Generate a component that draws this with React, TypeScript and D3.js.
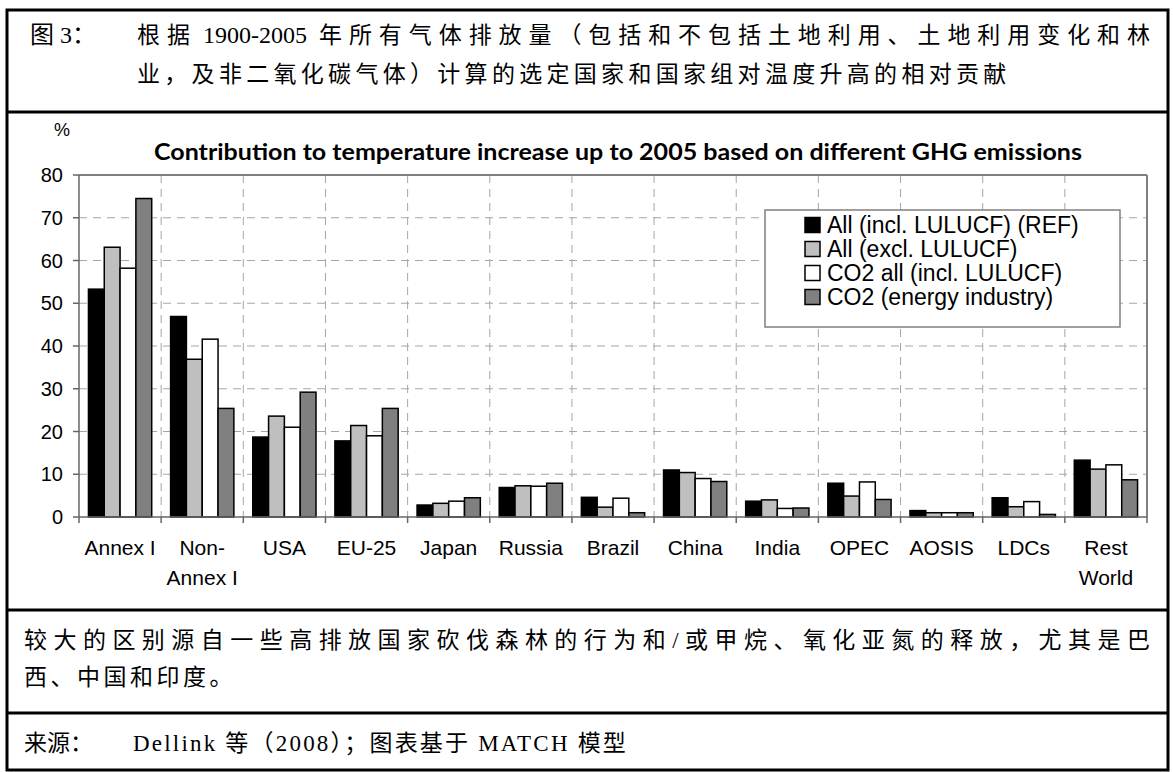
import React from "react";
import * as d3 from "d3";

const categories = ["Annex I", "Non-\nAnnex I", "USA", "EU-25", "Japan", "Russia", "Brazil", "China", "India", "OPEC", "AOSIS", "LDCs", "Rest\nWorld"];
const seriesNames = ["All (incl. LULUCF) (REF)", "All (excl. LULUCF)", "CO2 all (incl. LULUCF)", "CO2 (energy industry)"];
const seriesColors = ["#000000", "#bfbfbf", "#ffffff", "#808080"];
const allIncl = [53.3, 46.9, 18.7, 17.8, 2.8, 6.9, 4.6, 11.0, 3.7, 7.9, 1.5, 4.5, 13.3];
const allExcl = [63.1, 36.9, 23.6, 21.4, 3.2, 7.3, 2.3, 10.4, 4.0, 4.9, 1.0, 2.4, 11.2];
const co2All = [58.2, 41.6, 21.0, 19.0, 3.7, 7.2, 4.4, 9.0, 2.0, 8.2, 1.0, 3.6, 12.2];
const co2Energy = [74.5, 25.4, 29.2, 25.4, 4.5, 7.9, 1.0, 8.3, 2.1, 4.1, 1.0, 0.6, 8.7];
const yTicks = [0, 10, 20, 30, 40, 50, 60, 70, 80];

const titleLabel = "图 3：";
const titleLine1a = "根据";
const titleLine1b = "1900-2005";
const titleLine1c = "年所有气体排放量（包括和不包括土地利用、土地利用变化和林";
const titleLine2 = "业，及非二氧化碳气体）计算的选定国家和国家组对温度升高的相对贡献";
const chartTitle = "Contribution to temperature increase up to 2005 based on different GHG emissions";
const noteLine1 = "较大的区别源自一些高排放国家砍伐森林的行为和/或甲烷、氧化亚氮的释放，尤其是巴";
const noteLine2 = "西、中国和印度。";
const sourceLabel = "来源：";
const sourceText = "Dellink 等（2008）；图表基于 MATCH 模型";

const seriesData = [allIncl, allExcl, co2All, co2Energy];

const W = 1173, H = 772;
const plot = { left: 79, right: 1147, top: 175, bottom: 517 };
const cjkFont = "'Liberation Serif', 'Noto Sans CJK SC', serif";
const sansFont = "'Liberation Sans', Arial, sans-serif";

export default function App() {
  const x0 = d3.scaleBand<number>().domain(d3.range(categories.length)).range([plot.left, plot.right]).padding(0);
  const bw = x0.bandwidth();
  const x1 = d3.scaleBand<number>().domain(d3.range(seriesNames.length)).range([bw * 0.115, bw * 0.885]).padding(0);
  const y = d3.scaleLinear().domain([0, 80]).range([plot.bottom, plot.top]);
  const boundaries = d3.range(categories.length + 1).map((i) => plot.left + i * bw);

  return (
    <svg width={W} height={H} style={{ position: "absolute", left: 0, top: 0, background: "#fff" }}>
      <rect x={0} y={0} width={W} height={H} fill="#fff" />
      {/* outer frame and separators */}
      <rect x={7} y={10} width={1161} height={760} fill="none" stroke="#000" strokeWidth={3} />
      <line x1={7} x2={1168} y1={112} y2={112} stroke="#000" strokeWidth={3} />
      <line x1={7} x2={1168} y1={610} y2={610} stroke="#000" strokeWidth={3} />
      <line x1={7} x2={1168} y1={713} y2={713} stroke="#000" strokeWidth={3} />

      {/* figure caption */}
      <g fontFamily={cjkFont} fontSize={23} fill="#000">
        <text x={30} y={43} fontSize={24}>{titleLabel}</text>
        <text x={137} y={43} letterSpacing={7}>{titleLine1a}</text>
        <text x={203} y={43} fontSize={24}>{titleLine1b}</text>
        <text x={319} y={43} textLength={831} lengthAdjust="spacing">{titleLine1c}</text>
        <text x={137} y={82} letterSpacing={4.3}>{titleLine2}</text>
        <text x={24} y={648} textLength={1126} lengthAdjust="spacing">{noteLine1}</text>
        <text x={24} y={685} letterSpacing={3.5}>{noteLine2}</text>
        <text x={24} y={751}>{sourceLabel}</text>
        <text x={133} y={751} letterSpacing={2.2}>{sourceText}</text>
      </g>

      {/* chart title */}
      <text x={62} y={136} fontFamily={sansFont} fontSize={18} textAnchor="middle">%</text>
      <text x={618} y={160} fontFamily="Lato, 'Open Sans', sans-serif" fontWeight="bold" fontSize={22} textAnchor="middle" textLength={928} lengthAdjust="spacingAndGlyphs">{chartTitle}</text>

      {/* grid */}
      <g stroke="#a6a6a6" strokeWidth={1} strokeDasharray="8,6">
        {yTicks.filter((t) => t > 0 && t < 80).map((t) => (
          <line key={"h" + t} x1={plot.left} x2={plot.right} y1={y(t)} y2={y(t)} />
        ))}
        {boundaries.slice(1, -1).map((b, i) => (
          <line key={"v" + i} x1={b} x2={b} y1={plot.top} y2={plot.bottom} />
        ))}
      </g>

      {/* frame */}
      <line x1={plot.left} x2={plot.right} y1={plot.top} y2={plot.top} stroke="#808080" strokeWidth={2} />
      <line x1={plot.right} x2={plot.right} y1={plot.top} y2={plot.bottom} stroke="#808080" strokeWidth={2} />

      {/* bars */}
      <g>
        {categories.map((c, ci) => (
          <g key={c} transform={`translate(${x0(ci)},0)`}>
            {seriesData.map((s, si) => (
              <rect key={si} x={x1(si)} y={y(s[ci])} width={x1.bandwidth()} height={y(0) - y(s[ci])}
                fill={seriesColors[si]} stroke="#000" strokeWidth={1.5} />
            ))}
          </g>
        ))}
      </g>

      {/* axes */}
      <line x1={plot.left} x2={plot.left} y1={plot.top} y2={plot.bottom} stroke="#666" strokeWidth={1.5} />
      <line x1={plot.left} x2={plot.right} y1={plot.bottom} y2={plot.bottom} stroke="#666" strokeWidth={1.5} />
      <g fontFamily={sansFont} fontSize={20} fill="#000">
        {yTicks.map((t) => (
          <g key={t}>
            <line x1={plot.left - 6} x2={plot.left} y1={y(t)} y2={y(t)} stroke="#666" strokeWidth={1.5} />
            <text x={63} y={y(t)} dy="0.35em" textAnchor="end">{t}</text>
          </g>
        ))}
        {boundaries.map((b, i) => (
          <line key={i} x1={b} x2={b} y1={plot.bottom} y2={plot.bottom + 6} stroke="#666" strokeWidth={1.5} />
        ))}
      </g>
      <g fontFamily={sansFont} fontSize={21} fill="#000">
        {categories.map((c, ci) => (
          <text key={c} x={(x0(ci) as number) + bw / 2} y={555} textAnchor="middle">
            {c.split("\n").map((ln, li) => (
              <tspan key={li} x={(x0(ci) as number) + bw / 2} dy={li === 0 ? 0 : 30}>{ln}</tspan>
            ))}
          </text>
        ))}
      </g>

      {/* legend */}
      <g>
        <rect x={765} y={210} width={355} height={117} fill="#fff" stroke="#808080" strokeWidth={1.5} />
        {seriesNames.map((n, i) => (
          <g key={n} transform={`translate(0,${225 + i * 24})`}>
            <rect x={805} y={-7.5} width={15} height={15} fill={seriesColors[i]} stroke="#000" strokeWidth={1.5} />
            <text x={827} y={0} dy="0.35em" fontFamily={sansFont} fontSize={23}>{n}</text>
          </g>
        ))}
      </g>
    </svg>
  );
}
